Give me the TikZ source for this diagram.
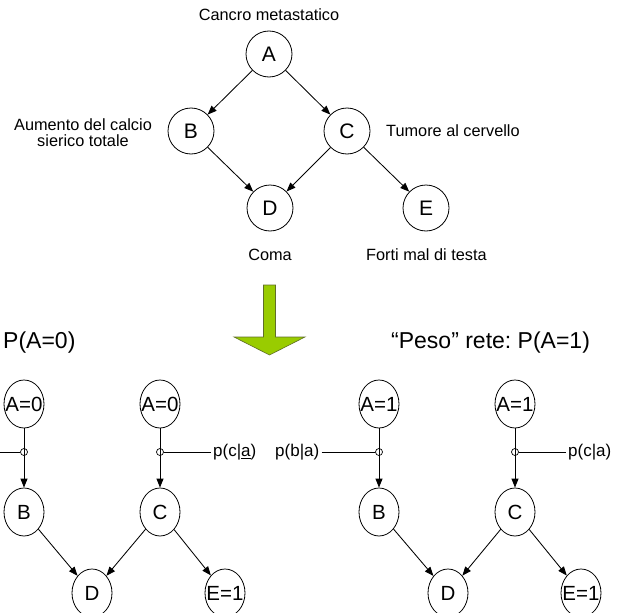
\documentclass[tikz,border=0pt]{standalone}
\usepackage{fontspec}
\setmainfont{Liberation Sans}
\frenchspacing
\usetikzlibrary{arrows.meta,shapes.geometric}
\definecolor{arrowgreen}{RGB}{153,204,0}
\definecolor{arrowedge}{RGB}{95,110,40}
\begin{document}
\begin{tikzpicture}[x=1pt,y=-1pt,
  every node/.style={inner sep=0pt},
  bnode/.style={circle,draw,line width=0.8pt,minimum size=46pt,font=\fontsize{21}{22}\selectfont},
  enode/.style={ellipse,draw,line width=0.8pt,minimum width=40pt,minimum height=48pt,font=\fontsize{20.5}{22}\selectfont},
  lbl/.style={font=\fontsize{16.3}{17}\selectfont},
  pl/.style={font=\fontsize{17}{18}\selectfont,inner sep=2pt},
  head/.style={font=\fontsize{23}{26}\selectfont},
  dep/.style={-{Triangle[length=9pt,width=7pt]},line width=0.85pt},
  hop/.style={circle,draw,minimum size=7pt,line width=0.7pt},
  wire/.style={line width=0.85pt}]
\useasboundingbox (0,0) rectangle (619,613);

% ---- original network ----
\node[bnode] (A) at (269,54) {A};
\node[bnode] (B) at (191,131) {B};
\node[bnode] (C) at (347,131) {C};
\node[bnode] (D) at (270,208) {D};
\node[bnode] (E) at (426,208) {E};
\draw[dep] (A) -- (B);
\draw[dep] (A) -- (C);
\draw[dep] (B) -- (D);
\draw[dep] (C) -- (D);
\draw[dep] (C) -- (E);

\node[lbl] (tA) at (269,15) {Cancro metastatico};
\node[lbl,align=center] (tB) at (83,133) {Aumento del calcio\\[-1pt]sierico totale};
\node[lbl,anchor=west] (tC) at (386,131) {Tumore al cervello};
\node[lbl] (tD) at (270,255) {Coma};
\node[lbl,anchor=west] (tE) at (366,255) {Forti mal di testa};

% ---- transformation arrow ----
\fill[arrowgreen,draw=arrowedge,line width=0.6pt]
  (263.5,285) -- (275.5,285) -- (275.5,337) -- (305,337) -- (269.5,355)
  -- (234,337) -- (263.5,337) -- cycle;

% ---- headings ----
\node[head,anchor=west] (hL) at (3,343) {P(A=0)};
\node[head,anchor=west] (hR) at (391,343) {“Peso” rete: P(A=1)};

% ---- network with A=0 ----
\node[enode] (la1) at (24,404) {\makebox[0pt]{A=0}};
\node[enode] (la2) at (160,404) {\makebox[0pt]{A=0}};
\node[enode] (lb) at (24,512) {B};
\node[enode] (lc) at (160,512) {C};
\node[enode] (ld) at (92,593) {D};
\node[enode] (le) at (225,593) {\makebox[0pt]{E=1}};
\node[hop] (lj1) at (24,452) {};
\node[hop] (lj2) at (160,452) {};
\draw[dep] (la1) -- (lb);
\draw[dep] (la2) -- (lc);
\draw[dep] (lb) -- (ld);
\draw[dep] (lc) -- (ld);
\draw[dep] (lc) -- (le);
\coordinate (lin) at (0,452);
\draw[wire] (lin) -- (lj1.west);
\node[pl,anchor=west] (lpc) at (211,452) {p(c|\underline{a})};
\draw[wire] (lj2.east) -- (lpc.west);

% ---- network with A=1 ----
\node[pl,anchor=west] (rpb) at (273,452) {p(b|a)};
\node[enode] (ra1) at (379,404) {\makebox[0pt]{A=1}};
\node[enode] (ra2) at (515,404) {\makebox[0pt]{A=1}};
\node[enode] (rb) at (379,512) {B};
\node[enode] (rc) at (515,512) {C};
\node[enode] (rd) at (448,593) {D};
\node[enode] (re) at (581,593) {\makebox[0pt]{E=1}};
\node[hop] (rj1) at (379,452) {};
\node[hop] (rj2) at (515,452) {};
\draw[dep] (ra1) -- (rb);
\draw[dep] (ra2) -- (rc);
\draw[dep] (rb) -- (rd);
\draw[dep] (rc) -- (rd);
\draw[dep] (rc) -- (re);
\draw[wire] (rpb.east) -- (rj1.west);
\node[pl,anchor=west] (rpc) at (566,452) {p(c|a)};
\draw[wire] (rj2.east) -- (rpc.west);
\end{tikzpicture}
\end{document}
